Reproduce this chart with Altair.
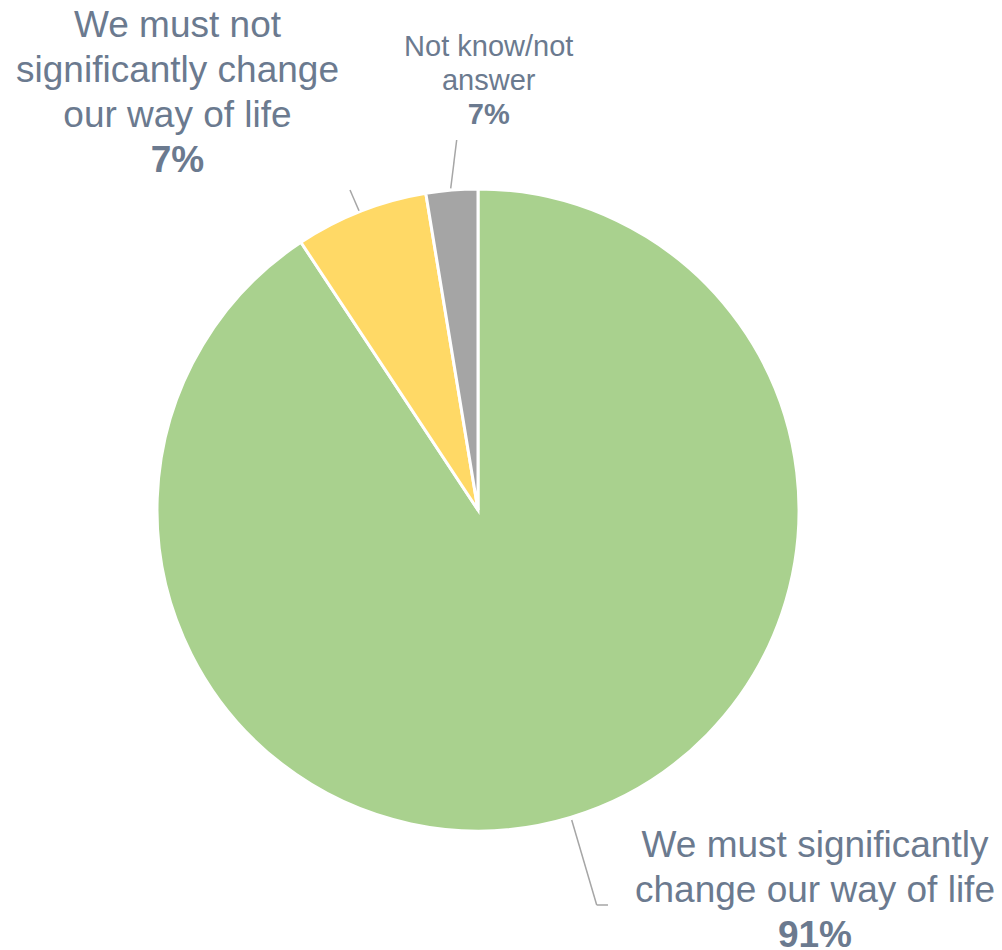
import altair as alt
import pandas as pd

# ---- data ----
categories = [
    "We must significantly change our way of life",
    "We must not significantly change our way of life",
    "Not know/not answer",
]
shares = [90.7, 6.7, 2.6]          # slice sizes as drawn
pct_labels = ["91%", "7%", "7%"]   # percentages as printed
label_lines = [
    "We must significantly\nchange our way of life",
    "We must not\nsignificantly change\nour way of life",
    "Not know/not\nanswer",
]
colors = ["#A9D18E", "#FFD966", "#A5A5A5"]

# ---- layout (chart pixel coordinates) ----
CX, CY, R = 470, 502, 321
TEXT_COLOR = "#6B7A8F"
LINE_COLOR = "#A6A6A6"
FONT = "Liberation Sans"

df = pd.DataFrame({
    "category": categories,
    "share": shares,
    "order": [0, 1, 2],
})

pie = alt.Chart(df).mark_arc(
    outerRadius=R, stroke="white", strokeWidth=3
).encode(
    theta=alt.Theta("share:Q", stack=True),
    order=alt.Order("order:Q"),
    color=alt.Color("category:N", scale=alt.Scale(domain=categories, range=colors), legend=None),
    x=alt.value(CX),
    y=alt.value(CY),
)

# label placement: (x, first baseline y, font size, line height, pct baseline y)
label_layout = [
    (807, 848.7, 37, 45, 938.7),
    (169.5, 28.5, 37, 45.3, 164),
    (480.7, 47.7, 29, 34.5, 116),
]

layers = [pie]
for i, (lx, ly, fs, lh, py) in enumerate(label_layout):
    sub = pd.DataFrame({"txt": [label_lines[i]], "pct": [pct_labels[i]]})
    layers.append(
        alt.Chart(sub).mark_text(
            x=lx, y=ly, align="center", baseline="alphabetic", font=FONT,
            fontSize=fs, lineHeight=lh, lineBreak="\n", color=TEXT_COLOR,
        ).encode(text="txt:N")
    )
    layers.append(
        alt.Chart(sub).mark_text(
            x=lx, y=py, align="center", baseline="alphabetic", font=FONT,
            fontSize=fs, fontWeight="bold", color=TEXT_COLOR,
        ).encode(text="pct:N")
    )

# leader lines
leaders = [
    (563.7, 812, 588.7, 897),
    (588.7, 897, 600, 897),
    (342, 182, 351, 202.7),
    (448.7, 132, 442.7, 180.3),
]
for x1, y1, x2, y2 in leaders:
    layers.append(
        alt.Chart(pd.DataFrame({"a": [0]})).mark_rule(
            color=LINE_COLOR, strokeWidth=1.5
        ).encode(x=alt.value(x1), y=alt.value(y1), x2=alt.value(x2), y2=alt.value(y2))
    )

chart = alt.layer(*layers).properties(
    width=986, height=941,
    autosize=alt.AutoSizeParams(type="none"),
    padding=0,
).configure_view(stroke=None)

chart.save("out.html", embed_options={"renderer": "svg", "actions": False})
